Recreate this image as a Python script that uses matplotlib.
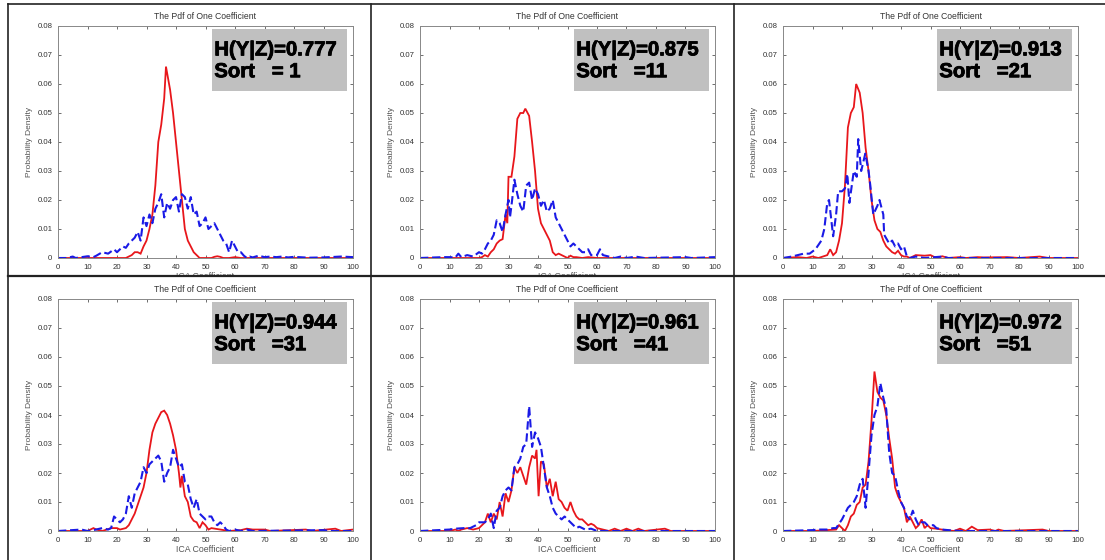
import numpy as np
import matplotlib
matplotlib.use("Agg")
import matplotlib.pyplot as plt
import matplotlib.patheffects as pe
from matplotlib.patches import Rectangle
from matplotlib.transforms import Bbox, TransformedBbox

plt.rcParams['font.family'] = ['Liberation Sans', 'DejaVu Sans']

# entropy values and sort index shown in the grey boxes
entropy = ["0.777", "0.875", "0.913", "0.944", "0.961", "0.972"]
sort_idx = [" 1", "11", "21", "31", "41", "51"]

# (ICA coefficient, probability density)
p1_red = [(0,0),(5,0),(10,0),(15,0),(20,0),(23,0),(24,0.0005),(25,0.001),(26,0.002),(27,0.002),
          (28,0.0015),(29,0.004),(30,0.006),(31,0.01),(32,0.015),(33,0.025),(34,0.04),(35,0.046),
          (36,0.055),(36.6,0.066),(38,0.058),(39,0.05),(40,0.04),(41,0.03),(42,0.02),(43,0.01),
          (44,0.006),(45,0.004),(46,0.002),(47,0.001),(48,0),(52,0),(53,0.0004),(54,0.0006),
          (55,0.0004),(56,0),(58,0),(60,0.0003),(62,0),(100,0)]
p1_blue = [(0,0),(3,0),(5,0.0005),(6,0),(8,0.0003),(10,0.0006),(12,0.0003),(13,0.0008),(15,0.002),
           (17,0.0015),(19,0.003),(20,0.002),(21,0.003),(22,0.004),(23,0.0035),(24,0.005),(25,0.006),
           (26,0.007),(27,0.009),(28,0.006),(29,0.014),(30,0.011),(31,0.015),(32,0.012),(33,0.017),
           (34,0.019),(35,0.022),(36,0.014),(37,0.019),(38,0.017),(39,0.02),(40,0.021),(41,0.016),
           (42,0.022),(43,0.021),(44,0.017),(45,0.021),(46,0.015),(47,0.016),(48,0.011),(49,0.012),
           (50,0.014),(51,0.01),(52,0.011),(53,0.012),(54,0.01),(55,0.008),(56,0.006),(57,0.005),
           (58,0.002),(59,0.006),(60,0.004),(61,0.002),(62,0.002),(63,0.0008),(64,0),(65,0.0005),
           (66,0.0002),(68,0.0008),(70,0.0003),(72,0.0005),(74,0.0003),(76,0.0005),(78,0.0002),
           (80,0.0004),(85,0.0001),(90,0.0002),(96,0.0005),(100,0.0003)]

p2_red = [(0,0),(10,0),(20,0),(21,0.0003),(22,0.001),(23,0.0005),(24,0.002),(25,0.003),(26,0.005),
          (27,0.006),(28,0.0065),(29,0.015),(29.6,0.012),(30,0.028),(31,0.028),(32,0.035),(33,0.048),
          (34,0.05),(35,0.05),(35.7,0.0515),(37,0.049),(38,0.04),(39,0.03),(40,0.017),(41,0.012),
          (42,0.01),(43,0.008),(44,0.006),(45,0.002),(46,0.001),(47,0.0015),(48,0.001),(49,0.0005),
          (50,0),(51,0.0008),(52,0.0003),(53,0.0003),(55,0),(57,0.0003),(60,0),(100,0)]
p2_blue = [(0,0),(8,0.0003),(10,0.0003),(12,0.0002),(13,0.0015),(14,0.0003),(16,0.001),(18,0.0005),
           (20,0.002),(21,0.0015),(22,0.003),(23,0.005),(24,0.006),(25,0.008),(26,0.013),(27,0.012),
           (28,0.009),(29,0.015),(30,0.02),(30.5,0.014),(31,0.018),(32,0.027),(33,0.022),(34,0.018),
           (35,0.016),(36,0.025),(37,0.026),(38,0.02),(39,0.024),(40,0.022),(41,0.018),(42,0.02),
           (43,0.016),(44,0.017),(45,0.02),(46,0.014),(47,0.012),(48,0.01),(49,0.008),(50,0.006),
           (51,0.004),(52,0.005),(53,0.004),(54,0.003),(55,0.002),(56,0.002),(57,0.003),(58,0.001),
           (60,0.001),(61,0.003),(62,0.001),(64,0.0005),(66,0),(68,0.0005),(70,0),(72,0.0003),
           (73,0.0005),(76,0),(90,0.0003),(92,0),(100,0.0003)]

p3_red = [(0,0),(5,0.0003),(8,0),(10,0.0005),(12,0),(15,0.001),(16,0.003),(17,0.001),(18,0.002),
          (19,0.006),(20,0.012),(21,0.025),(22,0.045),(23,0.05),(24,0.052),(24.8,0.06),(26,0.057),
          (27,0.05),(28,0.038),(29,0.03),(30,0.02),(31,0.013),(32,0.01),(33,0.009),(34,0.006),
          (35,0.004),(36,0.003),(37,0.002),(38,0.0015),(39,0.0025),(40,0.001),(41,0.0005),(42,0.0005),
          (43,0),(45,0.001),(48,0.0008),(50,0.001),(52,0),(54,0.0006),(56,0),(60,0.0003),(62,0),
          (66,0.0003),(68,0.0002),(76,0.0003),(80,0),(87,0.0005),(90,0),(100,0)]
p3_blue = [(0,0),(3,0.0005),(5,0.001),(7,0.0015),(9,0.0015),(11,0.003),(13,0.006),(14,0.01),
           (15,0.019),(15.6,0.02),(17,0.0075),(18,0.015),(18.7,0.023),(20,0.023),(21,0.024),(21.8,0.029),
           (22.5,0.019),(24,0.03),(25,0.028),(25.5,0.041),(26.5,0.03),(27.9,0.036),(29,0.03),
           (29.6,0.025),(30.6,0.015),(32,0.018),(32.7,0.02),(34,0.015),(34.3,0.008),(36,0.005),
           (37,0.006),(38,0.004),(39,0.005),(40,0.003),(41,0.004),(42,0.0005),(43,0),(45,0.0005),
           (48,0),(54,0.0005),(56,0),(100,0)]

p4_red = [(0,0),(10,0),(12,0.001),(13,0.0005),(15,0),(18,0.001),(20,0.001),(21,0.0005),(23,0.001),
          (24,0.002),(25,0.004),(26,0.006),(27,0.009),(28,0.012),(29,0.015),(30,0.02),(31,0.028),
          (32,0.034),(33,0.037),(34,0.039),(35,0.041),(36,0.0415),(37,0.04),(38,0.037),(39,0.033),
          (40,0.028),(41,0.02),(41.5,0.015),(42,0.019),(43,0.012),(44,0.01),(45,0.005),(46,0.0035),
          (47,0.003),(48,0.001),(49,0.003),(50,0.002),(51,0.0005),(52,0.001),(55,0.0005),(58,0),
          (62,0.0003),(64,0.0008),(66,0.0005),(70,0.0005),(72,0),(84,0.0005),(86,0),(94,0.0008),
          (96,0),(100,0.0005)]
p4_blue = [(0,0),(8,0.0005),(10,0),(12,0.0003),(15,0.001),(17,0.0005),(18,0.001),(19,0.005),(20,0.004),
           (21,0.003),(22,0.004),(23,0.006),(24,0.012),(25,0.008),(26,0.013),(27,0.015),(28,0.017),
           (29,0.022),(30,0.02),(31,0.023),(32,0.024),(33,0.025),(34,0.026),(35,0.024),(36,0.017),
           (37,0.02),(38,0.022),(39,0.028),(40,0.025),(41,0.022),(42,0.023),(43,0.017),(44,0.016),
           (45,0.011),(46,0.008),(47,0.011),(48,0.006),(49,0.005),(50,0.004),(51,0.005),(52,0.005),
           (53,0.003),(54,0.002),(55,0.003),(56,0.002),(57,0.0005),(58,0),(60,0.0005),(62,0),
           (64,0.0005),(66,0),(90,0.0003),(92,0),(100,0)]

p5_red = [(0,0),(10,0),(12,0.0005),(13,0),(14,0.0005),(16,0.001),(18,0.0005),(20,0.001),(22,0.003),
          (23,0.006),(24,0.003),(25,0.006),(26,0.004),(27,0.01),(28,0.005),(29,0.013),(30,0.01),
          (31,0.014),(32,0.022),(33,0.02),(34,0.022),(35,0.019),(36,0.016),(37,0.022),(38,0.026),
          (39,0.025),(39.5,0.028),(40.2,0.012),(41,0.024),(42,0.023),(43,0.015),(44,0.018),(45,0.012),
          (46,0.017),(47,0.011),(48,0.01),(49,0.008),(50,0.007),(51,0.01),(52,0.007),(53,0.005),
          (54,0.004),(55,0.004),(56,0.003),(57,0.002),(58,0.0025),(59,0.002),(60,0.001),(62,0.0005),
          (64,0),(66,0.0008),(68,0),(70,0.0008),(72,0),(74,0.0008),(76,0),(83,0.0008),(85,0),(100,0)]
p5_blue = [(0,0),(10,0.0005),(12,0.0008),(15,0.001),(17,0.001),(19,0.002),(20,0.003),(22,0.003),
           (23,0.004),(24,0.006),(25,0.001),(26,0.007),(27,0.008),(28,0.012),(29,0.014),(30,0.015),
           (31,0.014),(32,0.022),(33,0.023),(34,0.025),(35,0.029),(36,0.03),(37,0.043),(38,0.029),
           (39,0.034),(40,0.032),(41,0.029),(42,0.022),(43,0.015),(44,0.012),(45,0.008),(46,0.006),
           (47,0.005),(48,0.004),(49,0.005),(50,0.004),(51,0.003),(52,0.002),(53,0.001),(54,0.0015),
           (55,0.001),(56,0.0005),(58,0.0008),(60,0),(100,0)]

p6_red = [(0,0),(10,0),(18,0.0005),(19,0.002),(20,0.001),(21,0),(22,0.002),(23,0.005),(24,0.006),
          (25,0.009),(26,0.01),(27,0.015),(28,0.016),(29,0.024),(30,0.038),(31,0.055),(32,0.048),
          (33,0.046),(34,0.045),(35,0.04),(36,0.032),(37,0.025),(38,0.015),(39,0.012),(40,0.01),
          (41,0.008),(42,0.003),(43,0.005),(44,0.003),(45,0.001),(46,0.002),(47,0.004),(48,0.001),
          (49,0.002),(50,0.001),(52,0.0008),(55,0.0003),(58,0),(60,0.0008),(62,0),(64,0.0015),
          (66,0.0003),(70,0.0005),(72,0),(73,0.0005),(75,0),(88,0.0005),(90,0),(100,0)]
p6_blue = [(0,0),(10,0.0003),(12,0.0005),(15,0.0005),(17,0.001),(18,0.001),(20,0.004),(21,0.006),
           (22,0.008),(23,0.009),(24,0.01),(25,0.012),(26,0.016),(27,0.018),(28,0.008),(29,0.02),
           (30,0.033),(31,0.04),(32,0.043),(33,0.051),(34,0.046),(35,0.042),(36,0.027),(37,0.02),
           (38,0.019),(39,0.014),(40,0.01),(41,0.008),(42,0.005),(43,0.004),(44,0.007),(45,0.004),
           (46,0.002),(47,0.003),(48,0.003),(49,0.002),(50,0.002),(51,0.002),(52,0.001),(54,0.0005),
           (56,0.0003),(60,0),(100,0)]

red_series = [p1_red, p2_red, p3_red, p4_red, p5_red, p6_red]
blue_series = [p1_blue, p2_blue, p3_blue, p4_blue, p5_blue, p6_blue]

W, H = 1105, 560
fig = plt.figure(figsize=(W / 100, H / 100), dpi=100)
fig.patch.set_facecolor('white')

col_left = [58, 420, 783]
row_top = [26, 299]
ax_w, ax_h = 295, 232
mid_line = 276

# the box text is heavier than plain bold
heavy = [pe.withStroke(linewidth=0.6, foreground='black')]

for i in range(6):
    r, c = divmod(i, 3)
    left = col_left[c] / W
    bottom = 1 - (row_top[r] + ax_h) / H
    ax = fig.add_axes([left, bottom, ax_w / W, ax_h / H])

    rx, ry = zip(*red_series[i])
    bx, by = zip(*blue_series[i])
    ax.plot(rx, ry, color='#e8161b', lw=1.3, solid_joinstyle='miter')
    ax.plot(bx, by, color='#1a1ae6', lw=1.5, ls=(0, (4, 1.8)))

    ax.set_xlim(0, 100)
    ax.set_ylim(0, 0.08)
    ax.set_xticks(np.arange(0, 101, 10))
    ax.set_yticks(np.arange(0, 0.081, 0.01))
    ax.set_yticklabels(['0'] + ['%.2f' % v for v in np.arange(0.01, 0.081, 0.01)])
    ax.tick_params(direction='in', length=2.5, width=0.6, labelsize=5.6,
                   colors='#555555', labelcolor='#333333', top=True, right=True)
    ax.tick_params(axis='x', pad=4)
    ax.tick_params(axis='y', pad=4)
    for s in ax.spines.values():
        s.set_color('#888888')
        s.set_linewidth(0.7)

    ax.set_title('The Pdf of One Coefficient', fontsize=6.2, color='#333333', pad=5)
    ax.set_ylabel('Probability Density', fontsize=6, color='#555555', labelpad=3)
    ax.set_xlabel('ICA Coefficient', fontsize=6.3, color='#555555', labelpad=1)
    if r == 0:
        # top row label is hidden under the table line in the original
        clip = TransformedBbox(Bbox([[0, 1 - mid_line / H], [1, 1]]), fig.transFigure)
        ax.xaxis.label.set_clip_box(clip)
        ax.xaxis.label.set_clip_on(True)

    ax.add_patch(Rectangle((0.522, 0.718), 0.458, 0.267, transform=ax.transAxes,
                           facecolor='#c0c0c0', edgecolor='none', zorder=5))
    ax.text(0.53, 0.897, 'H(Y|Z)=' + entropy[i], transform=ax.transAxes,
            fontsize=14.6, fontweight='bold', va='center', ha='left', zorder=6,
            path_effects=heavy)
    ax.text(0.53, 0.803, 'Sort   =' + sort_idx[i], transform=ax.transAxes,
            fontsize=14.6, fontweight='bold', va='center', ha='left', zorder=6,
            path_effects=heavy)

# table lines around the six panels
def hline(y, x0, x1, lw=1.2):
    fig.add_artist(plt.Line2D([x0 / W, x1 / W], [1 - y / H, 1 - y / H], color='#222222', lw=lw))

def vline(x, y0, y1, lw=1.2):
    fig.add_artist(plt.Line2D([x / W, x / W], [1 - y0 / H, 1 - y1 / H], color='#222222', lw=lw))

hline(4, 8, 1105)
hline(mid_line, 8, 1105, lw=1.6)
vline(8, 4, 560)
vline(371, 4, 560)
vline(734, 4, 560)

fig.savefig('out.png', dpi=100, facecolor='white')
